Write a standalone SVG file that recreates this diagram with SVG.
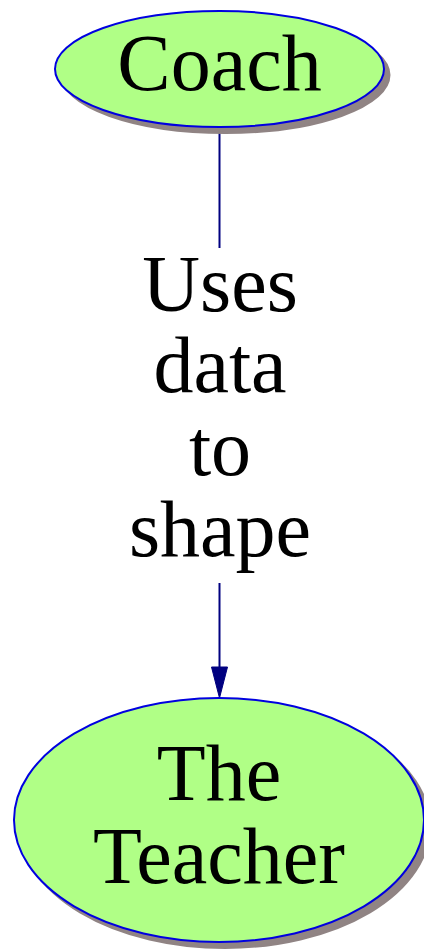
<svg xmlns="http://www.w3.org/2000/svg" width="424" height="950" viewBox="0 0 424 950">
<style>
.shadow{fill:#908484;stroke:#908484;stroke-width:2}
.node{fill:#b0ff86;stroke:#0000e0;stroke-width:2}
.lbl{font-family:'Liberation Serif','Times New Roman',serif;font-size:80px;fill:#000;text-anchor:middle}
.edge{stroke:#000080;stroke-width:2;fill:none}
</style>
<rect width="424" height="950" fill="#fff"/>
<g id="connectors">
<path class="edge" d="M219.5,128 V248"/>
<path class="edge" d="M219.5,583 V667"/>
<path d="M211.5,667 L227.5,667 L219.5,698 Z" fill="#000080" stroke="#000080" stroke-width="1"/>
<text class="lbl" x="220" y="311">Uses</text>
<text class="lbl" x="220" y="392">data</text>
<text class="lbl" x="220" y="475">to</text>
<text class="lbl" x="220" y="556">shape</text>
</g>
<g id="coach">
<ellipse class="shadow" cx="225.5" cy="75" rx="164" ry="58"/>
<ellipse class="node" cx="219.5" cy="69" rx="164.5" ry="58"/>
<text class="lbl" x="219.5" y="90">Coach</text>
</g>
<g id="teacher">
<ellipse class="shadow" cx="225" cy="826" rx="205" ry="122"/>
<ellipse class="node" cx="219" cy="820" rx="205" ry="122"/>
<text class="lbl" x="219" y="800">The</text>
<text class="lbl" x="219" y="883">Teacher</text>
</g>
</svg>
